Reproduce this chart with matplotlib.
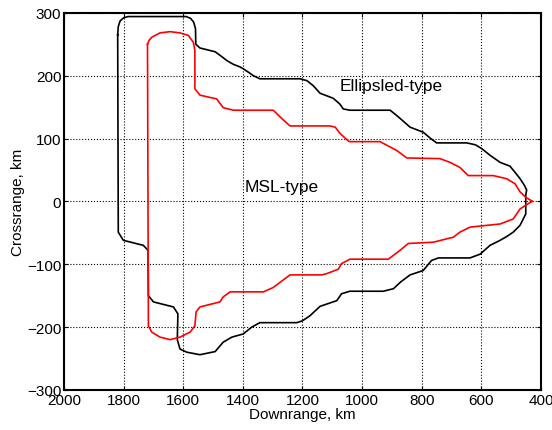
import matplotlib
matplotlib.use("Agg")
import matplotlib.pyplot as plt

plt.rcParams['font.family'] = ['Liberation Sans', 'DejaVu Sans']

# Ellipsled-type footprint (downrange km, crossrange km)
ell_x = [1820, 1818, 1812, 1800, 1785, 1590, 1575, 1565, 1559, 1558, 1544, 1510, 1493, 1470, 1454,
         1432, 1410, 1399, 1380, 1365, 1343, 1208, 1185, 1164, 1141, 1130, 1097, 1075, 1063,
         1041, 906, 880, 839, 795, 770, 750, 649, 620, 599, 570, 537, 504, 485, 470, 455,
         448, 451, 451, 451, 470, 493, 515, 537, 571, 604, 638, 744, 767, 795, 839, 870,
         895, 929, 1041, 1069, 1085, 1141, 1175, 1200, 1219, 1343, 1370, 1399, 1437, 1466,
         1493, 1544, 1588, 1611, 1620, 1618, 1633, 1700, 1717, 1718, 1734, 1801, 1818, 1820]
ell_y = [265, 278, 287, 292, 294, 294, 291, 285, 275, 250, 244, 240, 238, 230, 224,
         218, 214, 211, 205, 200, 195, 195, 192, 184, 172, 170, 164, 155, 147,
         145, 145, 135, 118, 110, 100, 93, 93, 90, 84, 73, 62, 56, 45, 36, 25,
         18, 10, 0, -20, -38, -49, -56, -62, -70, -84, -90, -90, -94, -110, -117, -128,
         -139, -143, -143, -147, -158, -167, -182, -190, -193, -193, -200, -211, -216, -224,
         -239, -244, -240, -235, -220, -179, -168, -160, -150, -78, -70, -62, -49, 265]

# MSL-type footprint
msl_x = [1720, 1715, 1706, 1678, 1644, 1611, 1583, 1566, 1561, 1561, 1544, 1488, 1466, 1432,
         1298, 1270, 1242, 1108, 1090, 1074, 1046, 1041, 940, 884, 850, 739, 705, 672,
         644, 560, 515, 487, 470, 450, 428, 437, 470, 493, 537, 638, 672, 694, 761, 845,
         873, 912, 1041, 1069, 1080, 1119, 1135, 1242, 1298, 1331, 1443, 1466, 1477, 1544,
         1557, 1561, 1577, 1611, 1644, 1678, 1706, 1717, 1720]
msl_y = [250, 256, 261, 268, 270, 268, 264, 253, 240, 179, 169, 163, 149, 145,
         145, 132, 120, 120, 118, 108, 96, 95, 95, 81, 69, 68, 62, 54,
         41, 41, 36, 28, 15, 6, 0, -2, -12, -28, -36, -41, -49, -57, -65, -67,
         -78, -92, -92, -99, -108, -115, -117, -117, -137, -144, -144, -152, -160, -168,
         -176, -198, -208, -216, -220, -216, -208, -198, 250]

fig = plt.figure(figsize=(5.52, 4.31), dpi=100)
ax = fig.add_axes([0.116, 0.093, 0.864, 0.875])

ax.plot(ell_x, ell_y, color='black', linewidth=1.2)
ax.plot(msl_x, msl_y, color='red', linewidth=1.2)

ax.text(1074, 184, 'Ellipsled-type', fontsize=12.5, va='center', ha='left')
ax.text(1393, 23, 'MSL-type', fontsize=12.5, va='center', ha='left')

ax.set_xlim(2000, 400)
ax.set_ylim(-300, 300)
ax.set_xticks(range(2000, 399, -200))
ax.set_yticks(range(-300, 301, 100))
ax.grid(True, color='black', linestyle=':', linewidth=0.8)
ax.tick_params(direction='in', length=3, labelsize=11, top=True, right=True, pad=2)
for s in ax.spines.values():
    s.set_linewidth(1.5)

ax.set_xlabel('Downrange, km', fontsize=11, labelpad=0)
ax.set_ylabel('Crossrange, km', fontsize=11, labelpad=1)

fig.savefig('out.png', dpi=100)
